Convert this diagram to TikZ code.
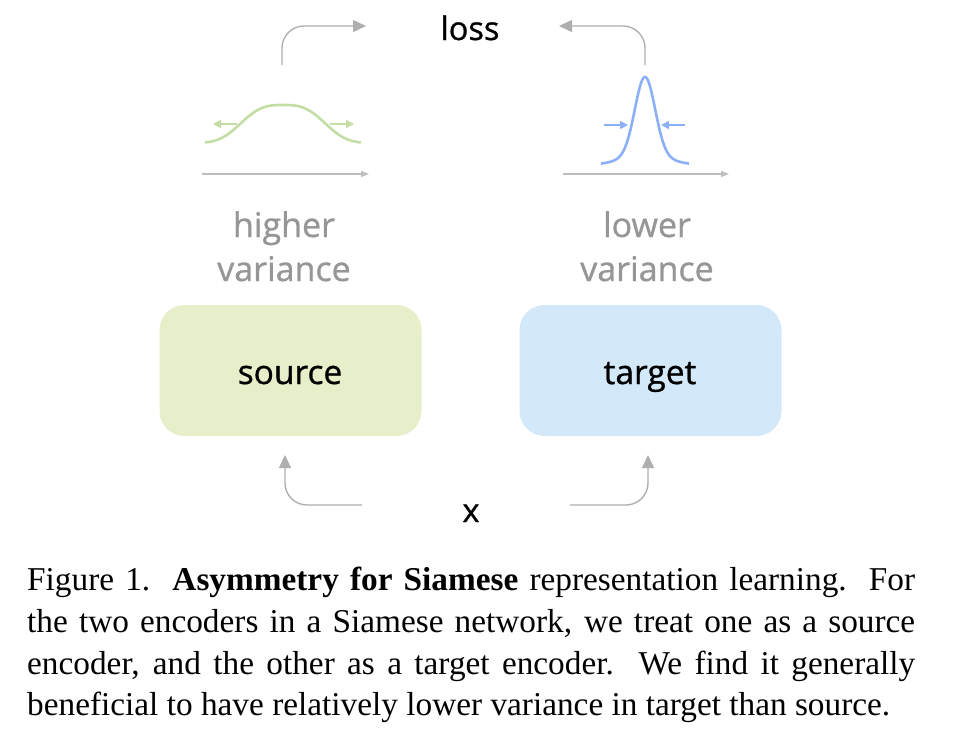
\documentclass[tikz,border=0pt]{standalone}
\usepackage{fontspec}
\setmainfont{Liberation Serif}
\newfontfamily\labelfont{Open Sans}[RawFeature={embolden=0.9}]
\usetikzlibrary{arrows.meta}
\definecolor{arrgray}{RGB}{175,175,175}
\definecolor{axgray}{RGB}{190,190,190}
\definecolor{txtgray}{RGB}{150,150,150}
\definecolor{curvegreen}{RGB}{195,222,165}
\definecolor{curveblue}{RGB}{140,176,248}
\definecolor{boxgreen}{RGB}{231,238,202}
\definecolor{boxblue}{RGB}{211,232,248}
\tikzset{
  flow/.style={draw=arrgray, line width=1.4pt, rounded corners=22pt, -{Triangle[length=13pt,width=12pt]}},
  axis/.style={draw=axgray, line width=1.4pt, -{Triangle[length=8pt,width=6pt]}},
  gcurve/.style={draw=curvegreen, line width=2.6pt},
  bcurve/.style={draw=curveblue, line width=2.6pt},
  garrow/.style={draw=curvegreen, line width=1.6pt, -{Triangle[length=8pt,width=8pt]}},
  barrow/.style={draw=curveblue, line width=1.6pt, -{Triangle[length=8pt,width=8pt]}},
  encbox/.style={rounded corners=25pt, minimum width=262pt, minimum height=131pt, inner sep=0pt},
  lbl/.style={font=\labelfont\fontsize{33.5}{38}\selectfont, text=black, inner sep=0pt, anchor=base},
  toplbl/.style={font=\labelfont\fontsize{32.5}{38}\selectfont, text=black, inner sep=0pt, anchor=base},
  glbl/.style={font=\labelfont\fontsize{34}{38}\selectfont, text=txtgray, inner sep=0pt, anchor=base},
}
\begin{document}
\begin{tikzpicture}[x=1pt,y=-1pt]
\useasboundingbox (0,0) rectangle (958,736);
% boxes
\node[encbox, fill=boxgreen] (srcbox) at (290.5,370.5) {};
\node[encbox, fill=boxblue] (tgtbox) at (650.5,370.5) {};
\node[lbl] (src) at (290,384) {source};
\node[lbl] (tgt) at (650,384) {target};
% texts
\node[toplbl] (loss) at (470,40) {loss};
\node[toplbl] (x) at (471,522) {x};
\node[glbl] (hi1) at (284,237) {higher};
\node[glbl] (hi2) at (284,281) {variance};
\node[glbl] (lo1) at (647,237) {lower};
\node[glbl] (lo2) at (647,281) {variance};
% coordinates for arrows
\coordinate (tl0) at (282,65);
\coordinate (tl1) at (366,26);
\coordinate (tr0) at (645,65);
\coordinate (tr1) at (559,26);
\coordinate (bl0) at (362,505);
\coordinate (bl1) at (285,455);
\coordinate (br0) at (570,505);
\coordinate (br1) at (648,455);
\draw[flow] (tl0) |- (tl1);
\draw[flow] (tr0) |- (tr1);
\draw[flow] (bl0) -| (bl1);
\draw[flow] (br0) -| (br1);
% axes
\coordinate (ax0) at (202,174);
\coordinate (ax1) at (369,174);
\coordinate (bx0) at (563,174);
\coordinate (bx1) at (729,174);
\draw[axis] (ax0) -- (ax1);
\draw[axis] (bx0) -- (bx1);
% curves
\draw[gcurve] plot[domain=-78:78, samples=120] ({283+\x},{143-38*exp(-(abs(\x)/48.5)^3)});
\draw[bcurve] plot[domain=-44:44, samples=160] ({645+\x},{165-88*(0.88*exp(-(\x/10)^2/2)+0.12*exp(-(\x/22)^2/2))});
% small arrows
\coordinate (ga0) at (237,124);
\coordinate (ga1) at (213,124);
\coordinate (ga2) at (330,124);
\coordinate (ga3) at (354,124);
\draw[garrow] (ga0) -- (ga1);
\draw[garrow] (ga2) -- (ga3);
\coordinate (ba0) at (604,125);
\coordinate (ba1) at (628,125);
\coordinate (ba2) at (685,125);
\coordinate (ba3) at (661,125);
\draw[barrow] (ba0) -- (ba1);
\draw[barrow] (ba2) -- (ba3);
% caption
\node[anchor=north west, inner sep=0pt, text width=888pt, align=justify,
      font=\fontsize{33.3}{41.7}\selectfont] (cap) at (27,567)
{Figure 1.\ \ \textbf{Asymmetry for Siamese} representation learning.\ \ For\linebreak
the two encoders in a Siamese network, we treat one as a source\linebreak
encoder, and the other as a target encoder.\ \ We find it generally\linebreak
beneficial to have relatively lower variance in target than source.};
\end{tikzpicture}
\end{document}
